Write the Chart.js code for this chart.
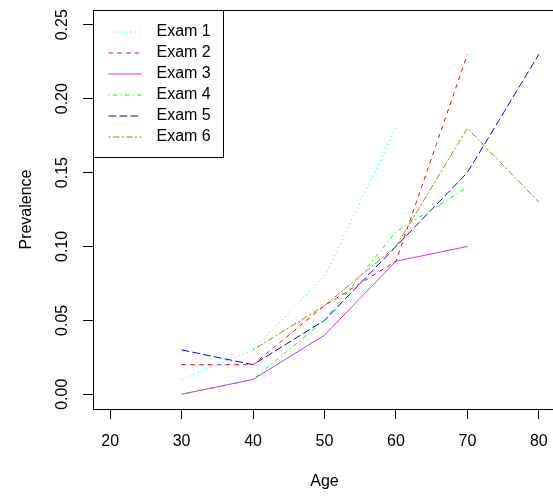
<!DOCTYPE html>
<html>
<head>
<meta charset="utf-8">
<script src="https://cdn.jsdelivr.net/npm/chart.js@4"></script>
<style>
  html, body { margin: 0; padding: 0; background: #fff; overflow: hidden; }
  #wrap { width: 560px; height: 498px; }
</style>
</head>
<body>
<div id="wrap"><canvas id="c" width="560" height="498"></canvas></div>
<script>
const ages = [30, 40, 50, 60, 70, 80]
const exam1 = [0.01, 0.03, 0.08, 0.18, null, null]
const exam2 = [0.02, 0.02, 0.06, 0.09, 0.23, null]
const exam3 = [0.00, 0.01, 0.04, 0.09, 0.10, null]
const exam4 = [0.00, 0.01, 0.05, 0.11, 0.14, null]
const exam5 = [0.03, 0.02, 0.05, 0.10, 0.15, 0.23]
const exam6 = [null, 0.03, 0.06, 0.10, 0.18, 0.13]
const seriesNames = ['Exam 1', 'Exam 2', 'Exam 3', 'Exam 4', 'Exam 5', 'Exam 6']
const xTicks = [20, 30, 40, 50, 60, 70, 80]
const yTicks = [0.00, 0.05, 0.10, 0.15, 0.20, 0.25]

const colors = ['#00FFFF', '#FF0000', '#BF3EFF', '#00FF00', '#0000FF', '#939310']
const dashes = [[1.1, 3.3], [4.4, 4.4], [], [1.1, 3.3, 4.4, 3.3], [7.7, 3.3], [2.2, 2.2, 6.6, 2.2]]
const FONT = 'Liberation Sans, Arial, Helvetica, sans-serif'

const allSeries = [exam1, exam2, exam3, exam4, exam5, exam6]
const datasets = allSeries.map((vals, i) => ({
    label: seriesNames[i],
    data: ages.map((a, j) => ({ x: a, y: vals[j] })),
    borderColor: colors[i],
    borderDash: dashes[i],
    borderWidth: 1,
    pointRadius: 0,
    fill: false,
    tension: 0,
    spanGaps: false,
}))

// R-style box top edge + legend in the top-left corner
const boxAndLegend = {
    id: 'boxAndLegend',
    afterDraw(chart) {
        const ctx = chart.ctx
        const area = chart.chartArea
        ctx.save()
        ctx.strokeStyle = '#000'
        ctx.lineWidth = 1
        ctx.beginPath()
        ctx.moveTo(area.left, area.top + 0.5)
        ctx.lineTo(area.right, area.top + 0.5)
        ctx.stroke()

        // legend
        const lx = area.left + 0.5, ly = area.top + 0.5
        const lw = 130, lh = 147
        ctx.fillStyle = '#fff'
        ctx.fillRect(lx, ly, lw, lh)
        ctx.strokeRect(lx, ly, lw, lh)
        ctx.font = '16px ' + FONT
        ctx.textBaseline = 'middle'
        ctx.textAlign = 'left'
        seriesNames.forEach((name, i) => {
            const y = Math.round(ly + 21 + i * 21)
            ctx.strokeStyle = colors[i]
            ctx.setLineDash(dashes[i])
            ctx.beginPath()
            ctx.moveTo(lx + 15, y)
            ctx.lineTo(lx + 48, y)
            ctx.stroke()
            ctx.setLineDash([])
            ctx.fillStyle = '#000'
            ctx.fillText(name, lx + 63, y)
        })
        ctx.restore()
    }
}

new Chart(document.getElementById('c'), {
    type: 'line',
    data: { datasets },
    options: {
        responsive: false,
        animation: false,
        devicePixelRatio: 1,
        layout: { padding: { top: 10, right: 4, left: 0, bottom: 0 } },
        plugins: { legend: { display: false }, tooltip: { enabled: false } },
        scales: {
            x: {
                type: 'linear',
                min: 17.6,
                max: 82.4,
                afterBuildTicks: s => { s.ticks = xTicks.map(v => ({ value: v })) },
                afterFit: s => { s.height = 89; s.paddingLeft = 0; s.paddingRight = 0 },
                grid: { drawOnChartArea: false, drawTicks: true, tickLength: 10, color: '#000', tickColor: '#000' },
                border: { display: true, color: '#000', width: 1 },
                ticks: { color: '#000', font: { family: FONT, size: 16 }, padding: 13, maxRotation: 0, autoSkip: false },
                title: { display: true, text: 'Age', color: '#000', font: { family: FONT, size: 16 }, padding: { bottom: 7 } }
            },
            y: {
                type: 'linear',
                min: -0.01,
                max: 0.26,
                afterBuildTicks: s => { s.ticks = yTicks.map(v => ({ value: v })) },
                afterFit: s => { s.width = 93; s.paddingTop = 0; s.paddingBottom = 0 },
                grid: { drawOnChartArea: false, drawTicks: true, tickLength: 10, color: '#000', tickColor: '#000' },
                border: { display: true, color: '#000', width: 1 },
                ticks: {
                    color: '#000', font: { family: FONT, size: 16 }, padding: 5,
                    minRotation: 90, maxRotation: 90, crossAlign: 'center', autoSkip: false,
                    callback: v => v.toFixed(2)
                },
                title: { display: true, text: 'Prevalence', color: '#000', font: { family: FONT, size: 16 }, padding: { top: 17 } }
            }
        }
    },
    plugins: [boxAndLegend]
})
</script>
</body>
</html>
